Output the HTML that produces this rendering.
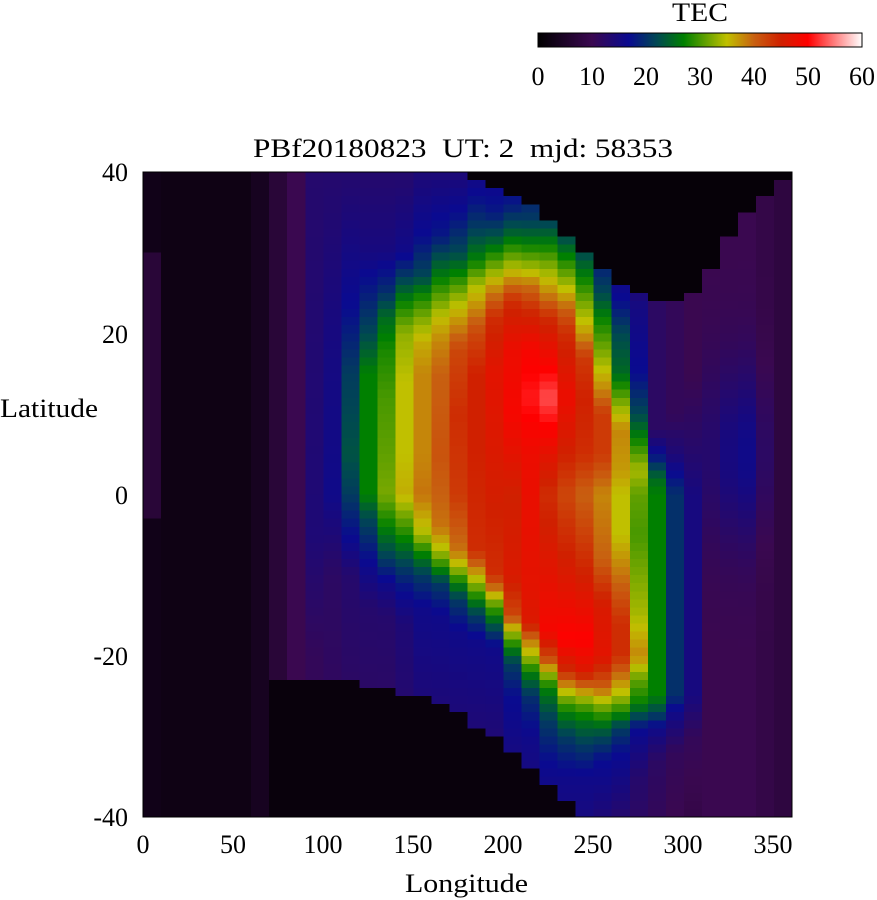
<!DOCTYPE html>
<html><head><meta charset="utf-8"><style>
body{margin:0;background:#fff;width:877px;height:900px;overflow:hidden}
svg{display:block}
text{font-family:"Liberation Serif",serif;font-size:26px;fill:#000}
</style></head><body>
<svg id="s" width="877" height="900" viewBox="0 0 877 900">
<defs>
<linearGradient id="cb" x1="0" x2="1" y1="0" y2="0">
<stop offset="0" stop-color="#000000"/>
<stop offset="0.1667" stop-color="#3a0850"/>
<stop offset="0.28" stop-color="#0a0a90"/>
<stop offset="0.37" stop-color="#004a50"/>
<stop offset="0.45" stop-color="#008000"/>
<stop offset="0.583" stop-color="#c0c000"/>
<stop offset="0.667" stop-color="#c86010"/>
<stop offset="0.75" stop-color="#d02000"/>
<stop offset="0.833" stop-color="#ff0000"/>
<stop offset="1" stop-color="#ffffff"/>
</linearGradient>
</defs>
<g id="grid" shape-rendering="crispEdges"></g>
<rect x="143" y="172" width="649" height="645" fill="none" stroke="#000" stroke-width="1"/>
<rect x="538" y="33" width="324" height="14" fill="url(#cb)" stroke="#000" stroke-width="1"/>
<text x="672" y="21" textLength="56" lengthAdjust="spacingAndGlyphs">TEC</text>
<g text-anchor="middle">
<text x="538" y="85">0</text><text x="592" y="85">10</text><text x="646" y="85">20</text>
<text x="700" y="85">30</text><text x="754" y="85">40</text><text x="808" y="85">50</text><text x="862" y="85">60</text>
<text x="143" y="853">0</text><text x="233" y="853">50</text><text x="323" y="853">100</text>
<text x="413" y="853">150</text><text x="503" y="853">200</text><text x="593" y="853">250</text>
<text x="683" y="853">300</text><text x="773" y="853">350</text>
</g>
<text x="253" y="157" textLength="420" lengthAdjust="spacingAndGlyphs">PBf20180823&#160;&#160;UT: 2&#160;&#160;mjd: 58353</text>
<text x="405" y="892" textLength="123" lengthAdjust="spacingAndGlyphs">Longitude</text>
<g text-anchor="end">
<text x="128" y="181">40</text><text x="128" y="343">20</text><text x="128" y="504">0</text>
<text x="128" y="665">-20</text><text x="128" y="826">-40</text>
</g>
<text x="0" y="417" textLength="98" lengthAdjust="spacingAndGlyphs">Latitude</text>
</svg>
<script>
var stops=[[0,[0,0,0]],[10,[58,8,80]],[16.8,[10,10,144]],[22.2,[0,74,80]],[27,[0,128,0]],[35,[192,192,0]],[40,[200,96,16]],[45,[208,32,0]],[50,[255,0,0]],[60,[255,255,255]]];
function col(v){v=Math.max(0,Math.min(60,v));for(var i=0;i<stops.length-1;i++){var a=stops[i],b=stops[i+1];if(v<=b[0]){var t=(v-a[0])/(b[0]-a[0]);return 'rgb('+[0,1,2].map(function(k){return Math.round(a[1][k]+(b[1][k]-a[1][k])*t)}).join(',')+')';}}return '#fff';}
function interp(pts,x){if(x<=pts[0][0])return pts[0][1];for(var i=0;i<pts.length-1;i++){if(x<=pts[i+1][0]){var t=(x-pts[i][0])/(pts[i+1][0]-pts[i][0]);return pts[i][1]+(pts[i+1][1]-pts[i][1])*t;}}return pts[pts.length-1][1];}
var C={
90:[[-40,11],[-20,11],[-5,14],[40,13]],
100:[[-40,11],[-10,12],[0,16],[20,15],[40,13]],
110:[[-40,11],[-10,13],[-5,17],[0,21],[5,23],[15,21],[23,17],[40,13]],
120:[[-40,11],[-14,13],[-8,17],[-3,22],[0,27],[5,27],[15,27],[20,22],[24,19],[30,15],[40,13]],
130:[[-40,11],[-15,13],[-11,16],[-8,21],[-4,27],[0,32],[5,31],[12,30],[18,28],[22,25],[25,20],[30,15],[40,13]],
140:[[-40,12],[-16,14],[-12,17],[-9,21],[-5,28],[0,36],[5,35],[14,35],[20,33],[24,27],[27,21],[30,16],[40,13]],
150:[[-40,12],[-14,16],[-10,21],[-7,28],[-5,34],[0,39],[5,38],[15,38],[19,36],[22,32],[25,27],[27,22],[32,17],[40,14]],
160:[[-40,12],[-15,16],[-11,21],[-9,28],[-7,34],[-4,39],[0,40],[5,41],[15,40],[19,38],[22,35],[25,30],[28,25],[32,18],[40,14]],
170:[[-40,12],[-17,16],[-13,21],[-11,27],[-9,34],[-7,39],[0,43],[10,44],[18,42],[21,38],[24,34],[27,28],[30,22],[35,17],[40,14]],
180:[[-40,12],[-18,16],[-15,21],[-13,27],[-11,33],[-9,39],[-7,44],[5,45],[15,45],[20,42],[23,38],[26,34],[29,27],[33,21],[37,17],[40,15]],
190:[[-40,12],[-19,16],[-17,21],[-15,27],[-13,33],[-12,38],[-10,44],[5,46],[15,47],[22,44],[26,37],[29,30],[32,23],[35,18],[40,15]],
200:[[-40,13],[-25,17],[-21,21],[-19,27],[-17,34],[-15,42],[-10,46],[0,45],[10,49],[18,48],[24,44],[27,37],[30,30],[33,23],[36,18],[40,15]],
210:[[-40,14],[-30,16],[-25,20],[-22,27],[-20,34],[-18,39],[-16,46],[-12,47],[5,48],[12,51],[18,49],[23,44],[26,39],[28,34],[31,27],[34,21],[40,16]],
220:[[-40,14],[-33,17],[-28,21],[-24,27],[-22,34],[-21,40],[-17,49],[-10,47],[0,44],[5,47],[12,53],[22,44],[25,38],[28,33],[31,27],[34,21]],
230:[[-40,15],[-35,16],[-30,21],[-27,27],[-25,33],[-22,44],[-18,50],[-10,46],[0,42],[5,45],[12,48],[20,44],[23,40],[26,34],[29,28],[32,22]],
240:[[-40,15],[-35,16],[-31,21],[-28,26],[-26,31],[-24,39],[-22,46],[-18,50],[-10,45],[0,40],[5,44],[12,45],[17,43],[20,37],[23,33],[27,27],[30,22]],
250:[[-40,14],[-33,17],[-30,22],[-28,27],[-26,33],[-24,40],[-20,47],[-14,46],[-8,40],[0,38],[5,43],[10,43],[13,38],[17,33],[22,27],[25,22],[28,19]],
260:[[-40,13],[-32,17],[-29,21],[-27,28],[-25,34],[-20,44],[-16,44],[-10,39],[-5,35],[0,35],[3,37],[8,38],[11,33],[15,25],[20,22],[24,17],[26,16]],
270:[[-40,12],[-35,13],[-29,17],[-26,27],[-23,31],[-20,38],[-15,34],[-5,30],[0,31],[3,34],[7,27],[10,22],[15,17],[24,15],[25,14]],
280:[[-40,11],[-33,12],[-29,16],[-27,22],[-25,27],[0,27],[2,25],[5,17],[8,12],[24,12]],
290:[[-40,10],[-32,11],[-27,16],[-25,20],[0,20],[5,14],[10,11],[24,11]],
300:[[-40,9],[-30,11],[-25,15],[0,15],[5,13],[15,10],[30,10],[40,10]]
};
var TOP={180:39,190:38,200:37,210:36,220:34,230:32,240:30,250:28,260:26,270:25,280:24,290:24,300:25,310:28,320:32,330:35,340:37,350:39};
var BOT={70:-23,80:-23,90:-23,100:-23,110:-23,120:-24,130:-24,140:-25,150:-25,160:-26,170:-27,180:-29,190:-30,200:-32,210:-34,220:-36,230:-38};
function tec(lon,lat){
 if(TOP[lon]!==undefined && lat>TOP[lon]) return 1;
 if(BOT[lon]!==undefined && lat<BOT[lon]) return 1.5;
 if(C[lon]) return interp(C[lon],lat);
 if(lon==0) return (lat>-3&&lat<30)?7:3;
 if(lon<60) return 2.5;
 if(lon==60) return 4;
 if(lon==70) return 7;
 if(lon==80) return 10;
 var bump=Math.exp(-Math.pow((lat-5)/11,2));
 if(lon==310) return 10+3*bump;
 if(lon==320) return 10+5*bump;
 if(lon==330) return 10+6*bump;
 if(lon==340) return 9+3*bump;
 return 8;
}
var g=document.getElementById('grid'),h='';
var x0=143,y0=172,W=649,H=645;
for(var lon=0;lon<360;lon+=10){for(var lat=40;lat>-40;lat-=1){
 var x=x0+lon/360*W,x2=x0+(lon+10)/360*W,y=y0+(40-lat)/80*H,y2=y0+(41-lat)/80*H;
 h+='<rect x="'+x.toFixed(1)+'" y="'+y.toFixed(1)+'" width="'+(x2-x+0.6).toFixed(1)+'" height="'+(y2-y+0.6).toFixed(1)+'" fill="'+col(tec(lon,lat-0.5))+'"/>';
}}
g.innerHTML=h;
</script>
</body></html>
